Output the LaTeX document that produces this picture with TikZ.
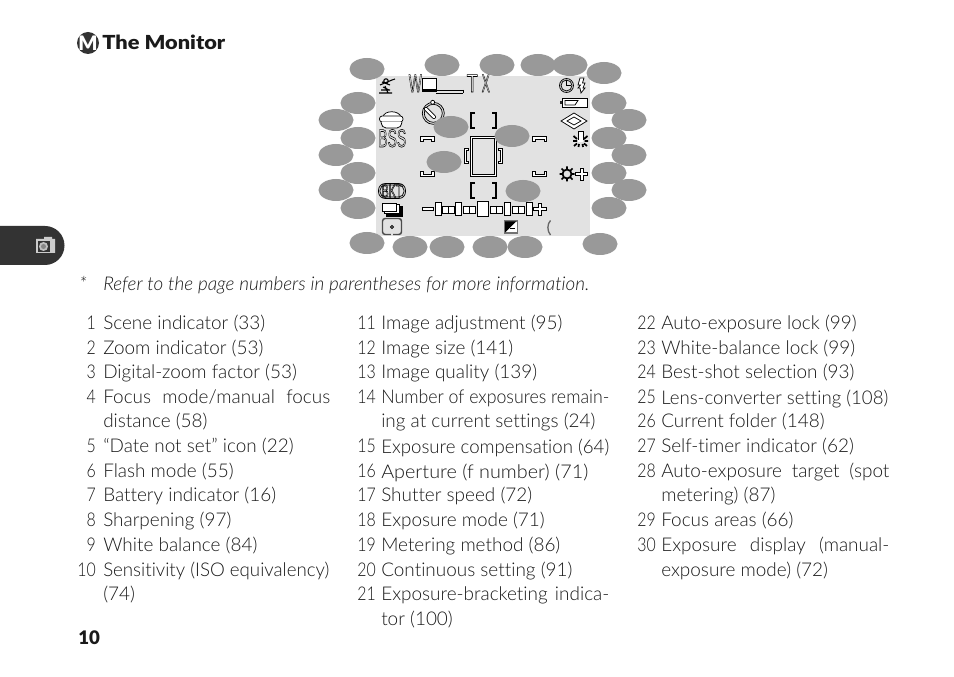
\documentclass[tikz,border=0pt]{standalone}
\usepackage{fontspec}
\setmainfont{Lato}[UprightFont=* Light,ItalicFont=* Light Italic,BoldFont=* Black,RawFeature={-liga;-dlig}]
\newfontfamily\iconfont{Liberation Sans}
\usetikzlibrary{shapes.geometric}
\definecolor{screen}{HTML}{E2E2E2}
\definecolor{oval}{HTML}{999999}
\definecolor{ink}{HTML}{1A1A1A}
\definecolor{tabc}{HTML}{333333}
\newcommand\fitw[2]{\resizebox{#1\dimexpr0.75pt\relax}{\height}{#2}}
\newcommand\fitx[2]{\makebox[#1\dimexpr0.75pt\relax][s]{#2}}
\newcommand\outl[1]{\special{pdf:code q 1 Tr 0.45 w}#1\special{pdf:code Q}}
\newcommand\nm[1]{\scalebox{0.84}[1]{#1}}
\tikzset{
 x=0.75pt,y=-0.75pt,
 txt/.style={anchor=base west,inner sep=0pt,text=ink,yshift=-0.75pt,font=\fontsize{14.2}{16}\selectfont},
 num/.style={anchor=base east,inner sep=0pt,text=ink,yshift=-0.75pt,font=\fontsize{14.2}{16}\selectfont},
 ico/.style={line width=0.55pt,draw=black},
 box/.style={line width=0.7pt,draw=black,fill=white},
 ov/.style={fill=oval},
 lbl/.style={inner sep=0pt,text=black,font=\iconfont\fontsize{13}{13}\selectfont},
}
\begin{document}
\begin{tikzpicture}
\useasboundingbox (0,0) rectangle (954,677);
\fill[white] (0,0) rectangle (954,677);
% tab
\fill[tabc] (0,226) -- (45,226) arc[start angle=-90,end angle=90,radius=19.5] -- (0,265) -- cycle;
\fill[white!80!black] (36,239) rectangle (55,253) (44,237) rectangle (52,239);
\fill[tabc] (38,241) rectangle (49.5,252);
\fill[white!75!black] (43.5,246.5) circle[radius=4.5];
\fill[tabc!60!white] (43.5,246.5) circle[radius=2.5];
% title
\fill[tabc] (88,43) circle[radius=11];
\node[inner sep=0pt,text=white,font=\bfseries\fontsize{15}{15}\selectfont] (micon) at (88,43) {M};
\node[txt,font=\bfseries\fontsize{14.5}{16}\selectfont] (title) at (102,49) {\fitw{123}{The Monitor}};
% screen
\fill[screen] (376,76) rectangle (590,236);
% scene icon
\draw[ico,line width=0.8pt] (379,93) -- (392,93) (381,90)--(390,90) (383,87) -- (389,90) (380,85)--(392,80)--(395,79) (382,82)--(390,85) (386,81) circle[radius=2.2] (385,86) -- (388,93);
% W T X
\node[lbl,anchor=base west] (tw) at (408.5,92) {\fitw{13}{\outl{\fontsize{19}{19}\selectfont W}}};
\draw[box] (422,78.5) rectangle (436,91);
\fill[black] (422,89.5) rectangle (436,92.5);
\draw[line width=0.7pt] (436,93) -- (463,93) (436,90) -- (463,90) (463,90) -- (463,93);
\node[lbl,anchor=base west] (tt) at (466.5,92) {\fitw{11}{\outl{\fontsize{19}{19}\selectfont T}}};
\node[lbl,anchor=base west] (tx) at (481.5,92) {\fitw{8}{\outl{\fontsize{19}{19}\selectfont X}}};
% clock, flash
\draw[ico] (566.5,85.5) circle[radius=7] circle[radius=5.5];
\draw[ico] (566.5,80.5) -- (566.5,85.5) -- (571,85.5);
\draw[ico,fill=white] (580,78) -- (578,85) -- (580.5,85) -- (578,88) -- (580,88) -- (581,93) -- (585,88) -- (583,88) -- (585,83) -- (582.5,83) -- (584,78) -- cycle;
% battery
\draw[ico,fill=white] (562,98.5) rectangle (587,107);
\fill[black!85] (559.5,101) rectangle (562,104.5);
\draw[ico] (565,100.5) -- (578,100.5) -- (575,105) -- (565,105) -- cycle;
% diamond
\draw[ico,fill=white] (574,113) -- (587,121) -- (574,129) -- (561,121) -- cycle;
\draw[ico] (574,117) -- (581,121) -- (574,125) -- (567,121) -- cycle;
% lamp
\fill[white] (578,131) rectangle (583,142);
\draw[ico] (578,140) -- (578,131.5) -- (583,131.5) -- (583,140);
\draw[black,line width=1.3pt] (573.5,136)--(577,139) (573,141)--(577,141) (574,146)--(577,143.5) (578.5,147)--(579,144) (583,147)--(582.5,144) (587,146)--(584,143.5) (588,141)--(584.5,141) (587.5,136)--(584,139);
% sun plus
\draw[black,line width=1.3pt] (567,174) circle[radius=4.5];
\draw[black,line width=1.2pt] (567,166.5)--(567,169) (567,179)--(567,181.5) (559.5,174)--(562,174) (572,174)--(574.5,174) (561.5,168.5)--(563.5,170.5) (572.5,168.5)--(570.5,170.5) (561.5,179.5)--(563.5,177.5) (572.5,179.5)--(570.5,177.5);
\draw[ico,fill=white] (580,168) -- (583,168) -- (583,172.5) -- (587.5,172.5) -- (587.5,175.5) -- (583,175.5) -- (583,180) -- (580,180) -- (580,175.5) -- (575.5,175.5) -- (575.5,172.5) -- (580,172.5) -- cycle;
% left column icons
\draw[ico,fill=white] (383,117) .. controls (384,110) and (399,110) .. (401,117) -- cycle;
\draw[ico,fill=white,rounded corners=2pt] (379.5,116) rectangle (403,122);
\draw[ico,fill=white] (381,122) .. controls (382,126) and (383,128) .. (386,128) -- (397,128) .. controls (400,128) and (401,126) .. (402,122);
\node[lbl,anchor=base west] (tbss) at (378,147) {\fitw{28}{\outl{\fontsize{19}{19}\selectfont BSS}}};
\draw[ico,rounded corners=5pt] (378.5,183.5) rectangle (405.5,198.5);
\draw[ico,rounded corners=4pt] (380,185) rectangle (404,197);
\node[lbl] (tbkt) at (392,191) {\fitw{21}{\outl{\fontsize{14}{14}\selectfont BKT}}};
% continuous
\draw[box,fill=black] (386,206) rectangle (402,216);
\draw[box] (384,204.5) rectangle (399,213.5);
\draw[box] (382.5,203) rectangle (396.5,211);
% spot
\draw[line width=1.1pt,draw=black!70,rounded corners=2pt] (382.5,218.5) rectangle (401.5,234.5);
\fill[screen] (391,233) rectangle (393,236);
\draw[line width=0.6pt,fill=white] (392,225.5) -- (393.5,227) -- (392,228.5) -- (390.5,227) -- cycle;
% self timer
\draw[ico] (433.3,113.3) circle[radius=11] circle[radius=9];
\draw[black,line width=3pt,line cap=round] (426,109) -- (434,117);
\draw[white,line width=1.8pt,line cap=round] (426,109) -- (434,117);
\draw[ico,fill=white] (432.7,102.3) circle[radius=2];
% brackets
\foreach \yy/\yb in {113/128,183/198}{
 \draw[line width=1.4pt] (475,\yy) -- (471,\yy) -- (471,\yb) -- (475,\yb);
 \draw[line width=1.4pt] (492,\yy) -- (496,\yy) -- (496,\yb) -- (492,\yb);
}
% corners
\draw[line width=0.6pt,fill=white] (420.5,141) -- (420.5,136.5) -- (434,136.5) -- (434,141) -- (431.5,141) -- (431.5,139) -- (423,139) -- (423,141) -- cycle;
\draw[line width=0.6pt,fill=white] (532.5,141) -- (532.5,136.5) -- (546.5,136.5) -- (546.5,141) -- (544,141) -- (544,139) -- (535,139) -- (535,141) -- cycle;
\draw[line width=0.6pt,fill=white] (420.5,171) -- (420.5,176.5) -- (434,176.5) -- (434,171) -- (431.5,171) -- (431.5,174) -- (423,174) -- (423,171) -- cycle;
\draw[line width=0.6pt,fill=white] (532.5,171) -- (532.5,176.5) -- (546.5,176.5) -- (546.5,171) -- (544,171) -- (544,174) -- (535,174) -- (535,171) -- cycle;
% centre area
\draw[line width=0.7pt,fill=white] (470,136.5) rectangle (496,176.5);
\draw[line width=0.7pt,fill=screen] (472,138.5) rectangle (494,174.5);
\draw[line width=0.7pt,fill=white] (468,148) -- (464,148) -- (464,163) -- (468,163) -- (468,161) -- (466,161) -- (466,150) -- (468,150) -- cycle;
\draw[line width=0.7pt,fill=white] (498,148) -- (502.5,148) -- (502.5,163) -- (498,163) -- (498,161) -- (500.5,161) -- (500.5,150) -- (498,150) -- cycle;
% exposure display
\draw[ico,fill=white] (422.5,207.5) rectangle (433,210.5);
\foreach \xa/\xb in {435.5/441,455.5/461,504.5/510.5,526/532}{\draw[box] (\xa,202.5) rectangle (\xb,215.5);}
\draw[box] (477.5,201.5) rectangle (488.5,216.5);
\foreach \xa/\xb/\xm in {442.5/454/448,463.5/475/469,490.5/502/496,512.5/524/518}{
 \draw[box] (\xa,206) rectangle (\xb,213);
 \draw[line width=0.7pt] (\xm,206) -- (\xm,213);
}
\draw[ico,fill=white] (538,203) -- (541,203) -- (541,207.5) -- (546,207.5) -- (546,210.5) -- (541,210.5) -- (541,215) -- (538,215) -- (538,210.5) -- (533.5,210.5) -- (533.5,207.5) -- (538,207.5) -- cycle;
% ev
\draw[line width=1pt,draw=black!55,fill=white] (504.5,221) rectangle (517.5,233);
\fill[black] (505,221.5) -- (505,232.5) -- (516,221.5) -- cycle;
\draw[line width=0.8pt] (510,228.5) -- (515,228.5);
% paren
\draw[line width=1pt,draw=black!60] (550.5,220.5) .. controls (547,224) and (547,231) .. (550.5,235);
% ovals
\foreach \cx/\cy in {367/69,442/65,497/65,538/65,570/65,604/73,
 609/103,629/120,609/138,629/155,609/173,629/190,609/208,600/244,
 525/247,490/247,447/247,410/247,367/243,
 358/208,336/190,358/173,336/155,358/138,336/120,358/103,
 451/127,512/136,444/162,523/191}{
 \fill[ov] (\cx,\cy) ellipse[x radius=17.5,y radius=11];
}
% footnote
\node[txt,font=\itshape\fontsize{14.2}{15}\selectfont] (fstar) at (79,290) {*};
\node[txt,font=\itshape\fontsize{14.2}{15}\selectfont] (fnote) at (103,290) {\fitw{486}{Refer to the page numbers in parentheses for more information.}};
% column 1
\node[num] (n1) at (96,329) {\nm{1}}; \node[txt] (c1) at (103,329) {Scene indicator (33)};
\node[num] (n2) at (96,354) {\nm{2}}; \node[txt] (c2) at (103,354) {Zoom indicator (53)};
\node[num] (n3) at (96,378) {\nm{3}}; \node[txt] (c3) at (103,378) {Digital-zoom factor (53)};
\node[num] (n4) at (96,403) {\nm{4}}; \node[txt] (c4) at (103,403) {\fitx{227}{Focus mode/manual focus}};
\node[txt] (c4b) at (103,427) {distance (58)};
\node[num] (n5) at (96,452) {\nm{5}}; \node[txt] (c5) at (103,452) {“Date not set” icon (22)};
\node[num] (n6) at (96,477) {\nm{6}}; \node[txt] (c6) at (103,477) {Flash mode (55)};
\node[num] (n7) at (96,501) {\nm{7}}; \node[txt] (c7) at (103,501) {Battery indicator (16)};
\node[num] (n8) at (96,526) {\nm{8}}; \node[txt] (c8) at (103,526) {Sharpening (97)};
\node[num] (n9) at (96,550) {\nm{9}}; \node[txt] (c9) at (103,550) {White balance (84)};
\node[num] (n10) at (96,575) {\nm{10}}; \node[txt] (c10) at (103,575) {\fitw{226}{Sensitivity (ISO equivalency)}};
\node[txt] (c10b) at (103,599) {(74)};
% column 2
\node[num] (n11) at (376,329) {\nm{11}}; \node[txt] (c11) at (381,329) {Image adjustment (95)};
\node[num] (n12) at (376,354) {\nm{12}}; \node[txt] (c12) at (381,354) {Image size (141)};
\node[num] (n13) at (376,378) {\nm{13}}; \node[txt] (c13) at (381,378) {Image quality (139)};
\node[num] (n14) at (376,403) {\nm{14}}; \node[txt] (c14) at (381,403) {\fitw{228}{Number of exposures remain-}};
\node[txt] (c14b) at (381,427) {ing at current settings (24)};
\node[num] (n15) at (376,452) {\nm{15}}; \node[txt] (c15) at (381,452) {\fitw{228}{Exposure compensation (64)}};
\node[num] (n16) at (376,477) {\nm{16}}; \node[txt] (c16) at (381,477) {\fitw{207}{Aperture (f number) (71)}};
\node[num] (n17) at (376,501) {\nm{17}}; \node[txt] (c17) at (381,501) {Shutter speed (72)};
\node[num] (n18) at (376,526) {\nm{18}}; \node[txt] (c18) at (381,526) {Exposure mode (71)};
\node[num] (n19) at (376,550) {\nm{19}}; \node[txt] (c19) at (381,550) {Metering method (86)};
\node[num] (n20) at (376,575) {\nm{20}}; \node[txt] (c20) at (381,575) {Continuous setting (91)};
\node[num] (n21) at (376,599) {\nm{21}}; \node[txt] (c21) at (381,599) {\fitx{228}{Exposure-bracketing indica-}};
\node[txt] (c21b) at (381,624) {tor (100)};
% column 3
\node[num] (n22) at (656,329) {\nm{22}}; \node[txt] (c22) at (661,329) {Auto-exposure lock (99)};
\node[num] (n23) at (656,354) {\nm{23}}; \node[txt] (c23) at (661,354) {White-balance lock (99)};
\node[num] (n24) at (656,378) {\nm{24}}; \node[txt] (c24) at (661,378) {Best-shot selection (93)};
\node[num] (n25) at (656,403) {\nm{25}}; \node[txt] (c25) at (661,403) {\fitw{227}{Lens-converter setting (108)}};
\node[num] (n26) at (656,427) {\nm{26}}; \node[txt] (c26) at (661,427) {Current folder (148)};
\node[num] (n27) at (656,452) {\nm{27}}; \node[txt] (c27) at (661,452) {Self-timer indicator (62)};
\node[num] (n28) at (656,477) {\nm{28}}; \node[txt] (c28) at (661,477) {\fitx{228}{Auto-exposure target (spot}};
\node[txt] (c28b) at (661,501) {metering) (87)};
\node[num] (n29) at (656,526) {\nm{29}}; \node[txt] (c29) at (661,526) {Focus areas (66)};
\node[num] (n30) at (656,550) {\nm{30}}; \node[txt] (c30) at (661,550) {\fitx{228}{Exposure display (manual-}};
\node[txt] (c30b) at (661,575) {exposure mode) (72)};
% page number
\node[txt,font=\bfseries\fontsize{14}{16}\selectfont] (page) at (78,643) {10};
\end{tikzpicture}
\end{document}
